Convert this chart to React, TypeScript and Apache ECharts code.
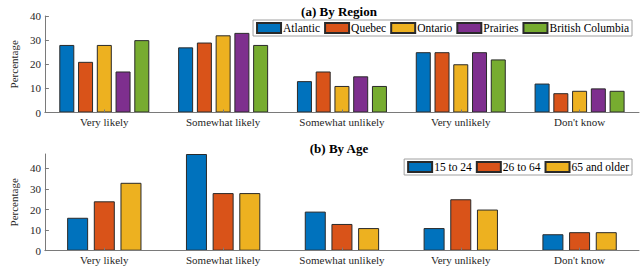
import React, { useEffect, useRef } from "react";
import * as echarts from "echarts";

const categories = ["Very likely", "Somewhat likely", "Somewhat unlikely", "Very unlikely", "Don't know"];
const regionNames = ["Atlantic", "Quebec", "Ontario", "Prairies", "British Columbia"];
const atlantic = [28, 27, 13, 25, 12];
const quebec = [21, 29, 17, 25, 8];
const ontario = [28, 32, 11, 20, 9];
const prairies = [17, 33, 15, 25, 10];
const britishColumbia = [30, 28, 11, 22, 9];
const ageNames = ["15 to 24", "26 to 64", "65 and older"];
const age15to24 = [16, 47, 19, 11, 8];
const age26to64 = [24, 28, 13, 25, 9];
const age65plus = [33, 28, 11, 20, 9];
const regionTicks = [0, 10, 20, 30, 40];
const ageTicks = [0, 10, 20, 30, 40];

const colors = ["#0072BD", "#D95319", "#EDB120", "#7E2F8E", "#77AC30"];
const FONT = "'Liberation Serif', 'DejaVu Serif', 'Times New Roman', serif";
const AXIS = "#7a7a7a";
const TEXT = "#262626";

export default function App() {
  const ref = useRef<HTMLDivElement>(null);
  useEffect(() => {
    document.body.style.margin = "0";
    const chart = echarts.init(ref.current!, null, { renderer: "svg" });
    const regionData = [atlantic, quebec, ontario, prairies, britishColumbia];
    const ageData = [age15to24, age26to64, age65plus];

    const xAxisBase = (gridIndex: number) => ({
      type: "category" as const,
      gridIndex,
      data: categories,
      z: 5,
      axisLine: { lineStyle: { color: AXIS, width: 1 } },
      axisTick: { show: true, inside: true, length: 3, alignWithLabel: true, lineStyle: { color: AXIS } },
      axisLabel: { color: TEXT, fontFamily: FONT, fontSize: 11, margin: 4, interval: 0 },
    });
    const yAxisBase = (gridIndex: number, max: number, ticks: number[]) => ({
      type: "value" as const,
      gridIndex,
      min: 0,
      max,
      interval: 10,
      name: "Percentage",
      nameLocation: "middle" as const,
      nameGap: 25,
      nameTextStyle: { color: TEXT, fontFamily: FONT, fontSize: 11 },
      splitLine: { show: false },
      axisLine: { show: true, lineStyle: { color: AXIS, width: 1 } },
      axisTick: { show: true, inside: true, length: 4, customValues: ticks, lineStyle: { color: AXIS } },
      axisLabel: { color: TEXT, fontFamily: FONT, fontSize: 11, margin: 4, customValues: ticks },
      z: 5,
    });

    const series: any[] = [];
    regionNames.forEach((name, i) => {
      series.push({
        type: "bar",
        name,
        xAxisIndex: 0,
        yAxisIndex: 0,
        data: regionData[i],
        barWidth: 15,
        barGap: "25%",
        itemStyle: { color: colors[i], borderColor: "#2a2a2a", borderWidth: 1 },
      });
    });
    ageNames.forEach((name, i) => {
      series.push({
        type: "bar",
        name,
        xAxisIndex: 1,
        yAxisIndex: 1,
        data: ageData[i],
        barWidth: 21,
        barGap: "27%",
        itemStyle: { color: colors[i], borderColor: "#2a2a2a", borderWidth: 1 },
      });
    });

    const legendBase = {
      orient: "horizontal" as const,
      right: 8,
      icon: "rect",
      itemWidth: 24,
      itemHeight: 10,
      itemGap: 4,
      padding: [2, 3, 2, 3],
      borderColor: "#a0a0a0",
      borderWidth: 1,
      backgroundColor: "#fff",
      textStyle: { color: "#000", fontFamily: FONT, fontSize: 11.5, padding: [0, 0, 0, -3] },
      selectedMode: false,
    };

    chart.setOption({
      animation: false,
      backgroundColor: "#fff",
      title: [
        {
          text: "(a) By Region",
          left: 334,
          textAlign: "center",
          top: 0,
          textStyle: { fontFamily: FONT, fontSize: 13, fontWeight: "bold", color: "#000" },
        },
        {
          text: "(b) By Age",
          left: 334,
          textAlign: "center",
          top: 137,
          textStyle: { fontFamily: FONT, fontSize: 13, fontWeight: "bold", color: "#000" },
        },
      ],
      legend: [
        { ...legendBase, top: 20, data: regionNames },
        { ...legendBase, top: 159, data: ageNames },
      ],
      grid: [
        { left: 29, right: 1, top: 16, bottom: 155.5 },
        { left: 29, right: 1, top: 154, bottom: 17.3 },
      ],
      xAxis: [xAxisBase(0), xAxisBase(1)],
      yAxis: [yAxisBase(0, 40, regionTicks), yAxisBase(1, 47, ageTicks)],
      series,
    });
    return () => chart.dispose();
  }, []);
  return <div ref={ref} style={{ width: 640, height: 268 }} />;
}
